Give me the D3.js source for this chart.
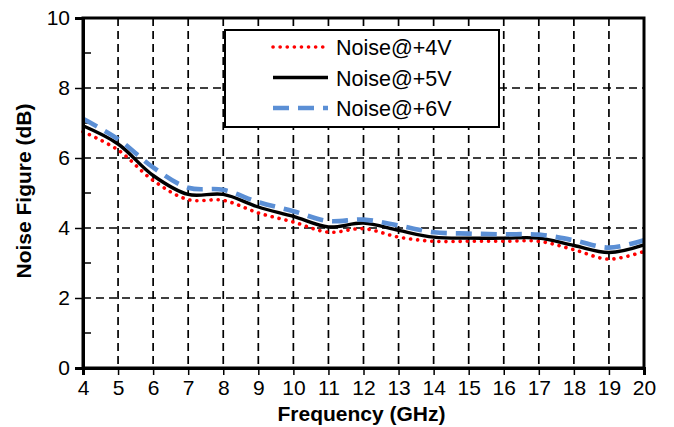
<!DOCTYPE html>
<html>
<head>
<meta charset="UTF-8">
<title>Noise Figure</title>
<script src="https://cdn.jsdelivr.net/npm/d3@7"></script>
<style>
  body { margin: 0; background: #fff; }
  svg { font-family: "Liberation Sans", Arial, sans-serif; }
  .grid line { stroke: #000; stroke-width: 1.7; stroke-dasharray: 8,5; }
  .axis path, .axis line { stroke: #000; }
  .axis text { font-size: 21px; fill: #000; }
  .title { font-size: 21px; font-weight: bold; }
</style>
</head>
<body>
<svg width="674" height="427"></svg>
<script>
// values
var freq = [4, 5, 6, 7, 8, 9, 10, 11, 12, 13, 14, 15, 16, 17, 18, 19, 20];
var nf4V = [6.75, 6.23, 5.36, 4.81, 4.79, 4.43, 4.17, 3.88, 3.98, 3.74, 3.62, 3.62, 3.62, 3.62, 3.38, 3.11, 3.33];
var nf5V = [6.92, 6.40, 5.50, 4.96, 4.96, 4.60, 4.33, 4.03, 4.14, 3.93, 3.74, 3.71, 3.71, 3.71, 3.50, 3.30, 3.52];
var nf6V = [7.12, 6.54, 5.73, 5.15, 5.09, 4.74, 4.48, 4.20, 4.24, 4.07, 3.88, 3.84, 3.82, 3.81, 3.65, 3.44, 3.65];
var seriesNames = ["Noise@+4V", "Noise@+5V", "Noise@+6V"];
var xTicks = d3.range(4, 21, 1);
var yTicks = [0, 2, 4, 6, 8, 10];

var svg = d3.select("svg"),
    margin = {top: 18, right: 30, bottom: 59, left: 83},
    width = +svg.attr("width") - margin.left - margin.right,
    height = +svg.attr("height") - margin.top - margin.bottom;

var x = d3.scaleLinear().domain([4, 20]).range([0, width]);
var y = d3.scaleLinear().domain([0, 10]).range([height, 0]);

var g = svg.append("g").attr("transform", "translate(" + margin.left + "," + margin.top + ")");

// dashed grid
g.append("g").attr("class", "grid")
  .selectAll("line").data(xTicks.slice(1, -1)).enter().append("line")
  .attr("x1", function(d) { return x(d); }).attr("x2", function(d) { return x(d); })
  .attr("y1", 0).attr("y2", height);
g.append("g").attr("class", "grid")
  .selectAll("line").data(yTicks.slice(1, -1)).enter().append("line")
  .attr("x1", 0).attr("x2", width)
  .attr("y1", function(d) { return y(d); }).attr("y2", function(d) { return y(d); });

// minor ticks on the left axis, pointing in
g.append("g").selectAll("line").data([1, 3, 5, 7, 9]).enter().append("line")
  .attr("x1", 0).attr("x2", 8)
  .attr("y1", function(d) { return y(d); }).attr("y2", function(d) { return y(d); })
  .attr("stroke", "#000").attr("stroke-width", 1.5);

var series = [
  {name: seriesNames[0], values: nf4V, color: "#ff0000", width: 3.6, dash: "0.1,7", cap: "round"},
  {name: seriesNames[1], values: nf5V, color: "#000000", width: 3.4, dash: null, cap: "butt"},
  {name: seriesNames[2], values: nf6V, color: "#5b8fd5", width: 4.6, dash: "16,9", cap: "butt"}
];

var line = d3.line()
  .x(function(d) { return x(d[0]); })
  .y(function(d) { return y(d[1]); })
  .curve(d3.curveCatmullRom.alpha(0.5));

g.selectAll(".series").data(series).enter().append("path")
  .attr("class", "series")
  .attr("fill", "none")
  .attr("stroke", function(d) { return d.color; })
  .attr("stroke-width", function(d) { return d.width; })
  .attr("stroke-dasharray", function(d) { return d.dash; })
  .attr("stroke-linecap", function(d) { return d.cap; })
  .attr("d", function(d) { return line(d3.zip(freq, d.values)); });

// frame
g.append("rect").attr("width", width).attr("height", height)
  .attr("fill", "none").attr("stroke", "#000").attr("stroke-width", 3);

// axes
g.append("g").attr("class", "axis")
  .attr("transform", "translate(0," + height + ")")
  .call(d3.axisBottom(x).tickValues(xTicks).tickFormat(d3.format("d")).tickSizeOuter(0).tickSize(7).tickPadding(5));
g.append("g").attr("class", "axis")
  .call(d3.axisLeft(y).tickValues(yTicks).tickSizeOuter(0).tickSize(8).tickPadding(5));
g.selectAll(".axis path").attr("stroke-width", 3);
g.selectAll(".axis line").attr("stroke-width", 1.5);
g.selectAll(".axis text").attr("font-family", null).attr("font-size", null);

// axis titles
svg.append("text").attr("class", "title")
  .attr("x", margin.left + width / 2 - 2).attr("y", 421)
  .attr("text-anchor", "middle").text("Frequency (GHz)");
svg.append("text").attr("class", "title")
  .attr("transform", "translate(31," + (margin.top + height / 2 - 2) + ") rotate(-90)")
  .attr("text-anchor", "middle").text("Noise Figure (dB)");

// legend
var lg = svg.append("g").attr("transform", "translate(225,30)");
lg.append("rect").attr("width", 274).attr("height", 97)
  .attr("fill", "#fff").attr("stroke", "#000").attr("stroke-width", 2);
var item = lg.selectAll(".item").data(series).enter().append("g")
  .attr("transform", function(d, i) { return "translate(0," + (17 + i * 30.5) + ")"; });
item.append("line").attr("x1", 48).attr("x2", 103).attr("y1", 0).attr("y2", 0)
  .attr("stroke", function(d) { return d.color; })
  .attr("stroke-width", function(d) { return d.width; })
  .attr("stroke-dasharray", function(d) { return d.dash; })
  .attr("stroke-linecap", function(d) { return d.cap; });
item.append("text").attr("x", 111).attr("y", 8).attr("font-size", 21.5)
  .text(function(d) { return d.name; });
</script>
</body>
</html>
